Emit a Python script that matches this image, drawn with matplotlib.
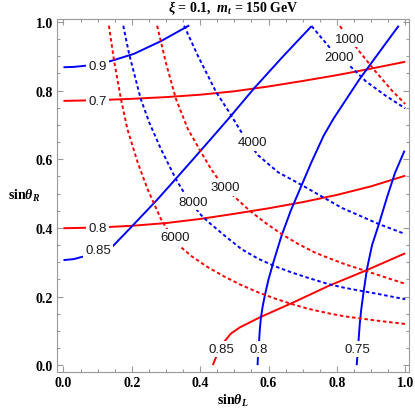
import matplotlib
matplotlib.use("Agg")
import matplotlib.pyplot as plt
import numpy as np

# contour lines, (sin theta_L, sin theta_R)
red_07 = np.array([(0, 0.770), (0.1, 0.772), (0.2, 0.776), (0.3, 0.781), (0.4, 0.788), (0.5, 0.798),
                   (0.6, 0.812), (0.7, 0.828), (0.8, 0.845), (0.9, 0.864), (1.0, 0.884)])
red_08 = np.array([(0, 0.399), (0.1, 0.401), (0.2, 0.406), (0.3, 0.414), (0.4, 0.426), (0.5, 0.441),
                   (0.6, 0.457), (0.7, 0.475), (0.8, 0.496), (0.9, 0.521), (1.0, 0.552)])
red_085 = np.array([(0.437, 0.0), (0.447, 0.025), (0.458, 0.048), (0.47, 0.068), (0.49, 0.092),
                    (0.516, 0.110), (0.574, 0.139), (0.673, 0.183), (0.776, 0.231), (0.883, 0.275),
                    (1.0, 0.326)])

blue_09 = np.array([(0, 0.868), (0.03, 0.869), (0.06, 0.872), (0.10, 0.877), (0.138, 0.886),
                    (0.206, 0.907), (0.285, 0.944), (0.368, 0.990)])
blue_085 = np.array([(0, 0.306), (0.03, 0.309), (0.06, 0.317), (0.09, 0.322), (0.115, 0.328),
                     (0.138, 0.340), (0.197, 0.401), (0.276, 0.484), (0.335, 0.550), (0.374, 0.594),
                     (0.418, 0.644), (0.482, 0.717), (0.559, 0.808), (0.64, 0.897), (0.726, 0.988)])
blue_08 = np.array([(0.568, 0.0), (0.569, 0.025), (0.571, 0.05), (0.573, 0.08), (0.575, 0.11),
                    (0.578, 0.14), (0.583, 0.172), (0.589, 0.202), (0.60, 0.25), (0.614, 0.299),
                    (0.638, 0.377), (0.665, 0.45), (0.692, 0.513), (0.725, 0.59), (0.761, 0.668),
                    (0.79, 0.718), (0.864, 0.83), (0.93, 0.92), (0.981, 0.989)])
blue_075 = np.array([(0.858, 0.0), (0.86, 0.025), (0.862, 0.05), (0.864, 0.08), (0.867, 0.12),
                     (0.871, 0.16), (0.878, 0.212), (0.888, 0.28), (0.903, 0.35), (0.923, 0.411),
                     (0.947, 0.49), (0.97, 0.56), (0.998, 0.625)])

red_1000 = np.array([(0.809, 0.988), (0.822, 0.970), (0.835, 0.953), (0.85, 0.934), (0.865, 0.915),
                     (0.912, 0.857), (0.962, 0.799), (1.0, 0.761)])
red_3000 = np.array([(0.274, 0.989), (0.30, 0.88), (0.329, 0.776), (0.364, 0.688), (0.403, 0.620),
                     (0.432, 0.571), (0.46, 0.532), (0.491, 0.499), (0.545, 0.45), (0.589, 0.416),
                     (0.638, 0.382), (0.687, 0.353), (0.736, 0.328), (0.776, 0.312), (0.824, 0.294),
                     (0.923, 0.262), (1.0, 0.237)])
red_6000 = np.array([(0.133, 0.989), (0.148, 0.887), (0.168, 0.776), (0.187, 0.688), (0.217, 0.591),
                     (0.246, 0.513), (0.285, 0.426), (0.31, 0.385), (0.339, 0.348), (0.374, 0.318),
                     (0.423, 0.285), (0.471, 0.258), (0.521, 0.233), (0.570, 0.212), (0.619, 0.194),
                     (0.668, 0.178), (0.717, 0.164), (0.776, 0.151), (0.824, 0.142), (0.923, 0.129),
                     (1.0, 0.120)])

blue_2000 = np.array([(0.726, 0.988), (0.785, 0.918), (0.838, 0.872), (0.885, 0.827), (0.94, 0.787),
                      (1.0, 0.748)])
blue_4000 = np.array([(0.353, 0.989), (0.393, 0.902), (0.447, 0.795), (0.485, 0.737), (0.52, 0.68),
                      (0.569, 0.612), (0.628, 0.562), (0.697, 0.525), (0.746, 0.497), (0.815, 0.458),
                      (0.923, 0.411), (1.0, 0.382)])
blue_8000 = np.array([(0.175, 0.989), (0.192, 0.907), (0.226, 0.776), (0.251, 0.707), (0.285, 0.630),
                      (0.329, 0.542), (0.364, 0.484), (0.403, 0.437), (0.423, 0.418), (0.472, 0.377),
                      (0.521, 0.338), (0.570, 0.310), (0.619, 0.288), (0.668, 0.270), (0.717, 0.254),
                      (0.776, 0.236), (0.824, 0.225), (0.923, 0.207), (1.0, 0.192)])

plt.rcParams['mathtext.fontset'] = 'custom'
plt.rcParams['mathtext.rm'] = 'Liberation Serif:bold'
plt.rcParams['mathtext.bf'] = 'Liberation Serif:bold'
plt.rcParams['mathtext.it'] = 'Liberation Serif:italic:bold'

fig = plt.figure(figsize=(4.15, 4.10), dpi=100)
ax = fig.add_axes([0.1373, 0.0902, 0.8482, 0.8622])

RED = '#ff0000'
BLUE = '#0000ff'
lw = 1.4

for c in [red_07, red_08, red_085]:
    ax.plot(c[:, 0], c[:, 1], color=RED, lw=lw, solid_capstyle='butt', solid_joinstyle='round')
for c in [blue_09, blue_085, blue_08, blue_075]:
    ax.plot(c[:, 0], c[:, 1], color=BLUE, lw=lw, solid_capstyle='butt', solid_joinstyle='round')
for c in [red_1000, red_3000, red_6000]:
    ax.plot(c[:, 0], c[:, 1], color=RED, lw=lw, dashes=(1.8, 1.4), dash_capstyle='butt')
for c in [blue_2000, blue_4000, blue_8000]:
    ax.plot(c[:, 0], c[:, 1], color=BLUE, lw=lw, dashes=(1.8, 1.4), dash_capstyle='butt')

# contour labels
lab = dict(fontsize=9.5, family='Liberation Sans', color='#1a1a1a', ha='center', va='center',
           zorder=5, bbox=dict(fc='white', ec='none', pad=1.6))
ax.text(0.100, 0.872, '0.9', **lab)
ax.text(0.100, 0.770, '0.7', **lab)
ax.text(0.100, 0.399, '0.8', **lab)
ax.text(0.101, 0.335, '0.85', **lab)
ax.text(0.378, 0.475, '8000', **lab)
ax.text(0.326, 0.372, '6000', **lab)
ax.text(0.474, 0.518, '3000', **lab)
ax.text(0.552, 0.649, '4000', **lab)
ax.text(0.837, 0.950, '1000', **lab)
ax.text(0.805, 0.899, '2000', **lab)
ax.text(0.462, 0.047, '0.85', **lab)
ax.text(0.571, 0.047, '0.8', **lab)
ax.text(0.859, 0.047, '0.75', **lab)

ax.set_xlim(-0.019, 1.011)
ax.set_ylim(-0.020, 1.010)
ticks = np.arange(0, 1.01, 0.2)
ax.set_xticks(ticks)
ax.set_yticks(ticks)
ax.set_xticklabels(['%.1f' % t for t in ticks])
ax.set_yticklabels(['%.1f' % t for t in ticks])
ax.set_xticks(np.arange(0, 1.01, 0.05), minor=True)
ax.set_yticks(np.arange(0, 1.01, 0.05), minor=True)
ax.tick_params(which='both', direction='in', top=True, right=True, color='#999999', width=0.8,
               labelsize=10, pad=3)
ax.tick_params(which='major', length=4)
ax.tick_params(which='minor', length=2.2)
for lbl in ax.get_xticklabels() + ax.get_yticklabels():
    lbl.set_family('Liberation Serif')
    lbl.set_fontweight('bold')
for s in ax.spines.values():
    s.set_color('#999999')
    s.set_linewidth(0.8)

ax.set_xlabel(r'$\mathrm{sin}\theta_L$', fontsize=10, va='center')
ax.xaxis.set_label_coords(0.5, -0.079)
ax.set_ylabel(r'$\mathrm{sin}\theta_R$', fontsize=10, rotation=0, ha='right', va='center')
ax.yaxis.set_label_coords(-0.048, 0.5)
ax.set_title(r'$\xi$ = 0.1,  $m_t$ = 150 GeV', fontsize=10, family='Liberation Serif',
             fontweight='bold', pad=5)

fig.savefig('out.png', dpi=100)
